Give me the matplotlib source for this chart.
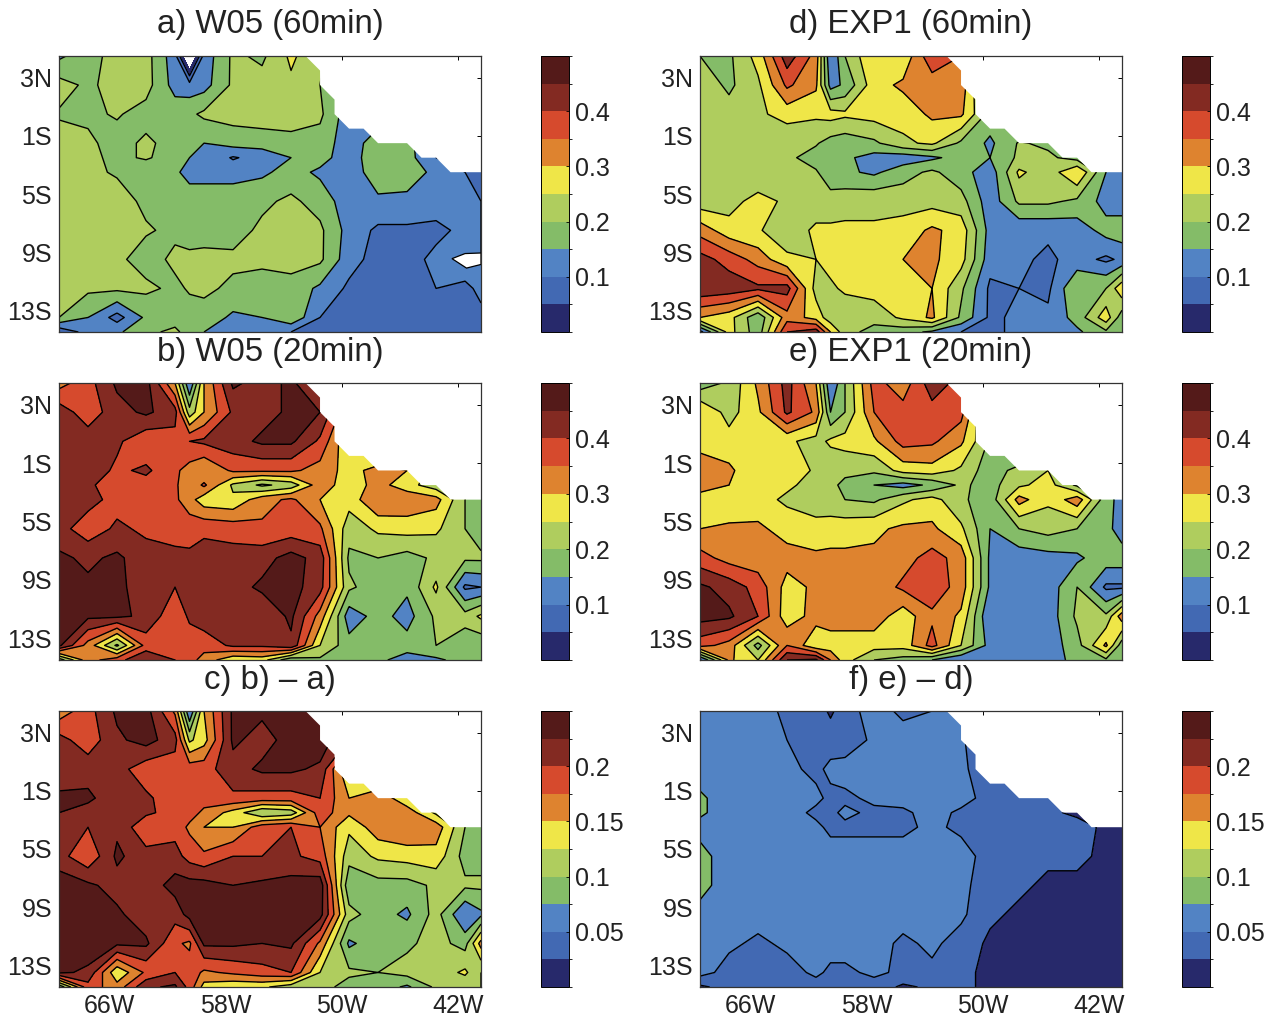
import numpy as np
import matplotlib
matplotlib.use("Agg")
import matplotlib.pyplot as plt
from matplotlib.colors import ListedColormap, BoundaryNorm
from matplotlib.cm import ScalarMappable
from matplotlib.patches import Polygon

plt.rcParams['font.family'] = ['Liberation Sans', 'DejaVu Sans']

lons = [-69.5,-67.5,-65.5,-63.5,-61.5,-60.5,-59.5,-57.5,-55.5,-53.5,-51.5,-49.5,-47.5,-45.5,-43.5,-41.5,-40.4]
lats = [4.5,2.5,0.5,-1.5,-2.5,-3.5,-5.5,-7.5,-9.5,-11.5,-13.5,-14.5]

coast = [(-69.5,-14.5),(-40.4,-14.5),(-40.4,-3.5),(-42.5,-3.5),(-43.5,-2.5),(-44.5,-2.5),(-45.5,-1.5),
         (-47.5,-1.5),(-48.5,-0.5),(-49.5,-0.5),(-50.5,0.5),(-50.5,1.5),(-51.5,2.5),(-51.5,3.5),(-52.5,4.5),(-69.5,4.5)]
a_gap = [(-42.4,-9.45),(-41.5,-9.1),(-40.4,-9.06),(-40.4,-9.85),(-41.4,-10.1)]

panel_a = [
 [.14,.18,.22,.22,.12,-.1,.12,.21,.19,.26,.21,.14,.12,.12,.12,.10,.10],
 [.22,.19,.22,.22,.13,.12,.13,.21,.22,.24,.20,.14,.12,.12,.12,.10,.10],
 [.195,.19,.205,.18,.18,.19,.21,.22,.23,.23,.21,.12,.12,.12,.12,.10,.10],
 [.22,.21,.18,.21,.18,.17,.15,.17,.17,.18,.18,.12,.18,.16,.12,.10,.10],
 [.22,.21,.19,.205,.18,.15,.14,.095,.12,.15,.17,.12,.19,.17,.10,.10,.10],
 [.22,.21,.195,.17,.16,.13,.13,.13,.14,.17,.14,.12,.18,.17,.14,.10,.09],
 [.23,.23,.22,.19,.18,.18,.18,.18,.19,.21,.18,.12,.14,.14,.12,.11,.10],
 [.23,.23,.22,.205,.19,.17,.17,.18,.21,.23,.21,.13,.09,.09,.09,.11,.10],
 [.23,.22,.21,.18,.21,.215,.22,.21,.21,.22,.21,.12,.08,.085,.11,.13,.10],
 [.21,.21,.21,.21,.19,.205,.21,.19,.18,.18,.14,.09,.08,.09,.10,.09,.11],
 [.20,.15,.08,.16,.18,.18,.18,.14,.15,.19,.10,.08,.08,.08,.08,.08,.09],
 [.06,.12,.14,.19,.21,.18,.15,.12,.12,.10,.08,.08,.08,.08,.08,.08,.08],
]
panel_b = [
 [.33,.38,.46,.47,.30,.10,.30,.46,.43,.46,.40,.30,.20,.20,.20,.18,.18],
 [.43,.37,.43,.46,.42,.22,.30,.41,.43,.46,.45,.30,.20,.20,.20,.18,.18],
 [.43,.43,.41,.36,.38,.40,.41,.43,.46,.46,.39,.25,.20,.20,.20,.18,.18],
 [.43,.43,.39,.41,.36,.33,.30,.36,.36,.36,.33,.28,.32,.30,.22,.18,.18],
 [.43,.41,.37,.38,.36,.31,.36,.24,.19,.22,.33,.27,.32,.27,.22,.20,.18],
 [.43,.42,.38,.37,.36,.32,.27,.26,.33,.36,.30,.27,.35,.34,.32,.20,.17],
 [.42,.37,.41,.39,.37,.38,.39,.38,.36,.37,.36,.22,.26,.27,.26,.20,.17],
 [.46,.44,.46,.42,.42,.41,.42,.42,.43,.47,.43,.19,.20,.18,.21,.21,.21],
 [.46,.46,.46,.43,.40,.42,.44,.43,.46,.47,.42,.21,.17,.16,.26,.09,.10],
 [.47,.46,.46,.44,.36,.41,.43,.42,.41,.46,.33,.12,.17,.13,.21,.22,.26],
 [.46,.33,.19,.37,.37,.37,.37,.41,.41,.44,.25,.17,.17,.17,.20,.17,.16],
 [.17,.33,.38,.45,.40,.37,.33,.26,.27,.16,.19,.17,.16,.13,.14,.17,.15],
]
panel_c = [
 [.16,.19,.23,.235,.17,.05,.15,.23,.23,.24,.24,.20,.10,.10,.10,.09,.09],
 [.21,.185,.22,.235,.21,.12,.14,.23,.215,.235,.24,.20,.10,.10,.10,.09,.09],
 [.21,.215,.21,.185,.185,.19,.19,.215,.23,.23,.22,.12,.10,.10,.10,.09,.09],
 [.23,.23,.21,.205,.185,.185,.185,.195,.19,.19,.20,.15,.17,.13,.10,.09,.09],
 [.225,.215,.21,.205,.19,.185,.17,.14,.10,.11,.19,.155,.155,.165,.12,.10,.09],
 [.21,.20,.22,.18,.19,.17,.15,.15,.19,.20,.175,.13,.165,.175,.165,.10,.09],
 [.21,.18,.23,.21,.21,.19,.18,.20,.20,.205,.19,.11,.13,.135,.14,.09,.09],
 [.24,.23,.215,.21,.235,.235,.235,.225,.23,.235,.24,.08,.09,.09,.105,.105,.105],
 [.24,.235,.23,.21,.21,.235,.235,.235,.235,.23,.235,.11,.085,.07,.11,.05,.07],
 [.24,.24,.23,.23,.18,.17,.23,.23,.225,.23,.17,.07,.09,.095,.11,.09,.16],
 [.23,.22,.13,.18,.20,.19,.17,.18,.19,.20,.125,.105,.10,.11,.11,.13,.10],
 [.08,.19,.16,.22,.23,.19,.14,.13,.13,.11,.11,.09,.09,.07,.105,.105,.10],
]
panel_d = [
 [.20,.19,.27,.43,.33,.10,.20,.30,.26,.39,.35,.10,.10,.10,.10,.10,.10],
 [.23,.19,.24,.36,.31,.13,.16,.28,.31,.32,.33,.15,.10,.10,.10,.10,.10],
 [.22,.22,.24,.27,.26,.27,.26,.27,.27,.31,.31,.18,.10,.10,.10,.10,.10],
 [.22,.22,.21,.21,.205,.18,.17,.19,.24,.26,.19,.14,.205,.19,.12,.10,.10],
 [.22,.22,.22,.21,.18,.17,.16,.13,.12,.14,.17,.15,.21,.21,.18,.12,.12],
 [.22,.22,.205,.205,.205,.17,.16,.14,.18,.21,.17,.12,.26,.22,.30,.15,.12],
 [.22,.23,.27,.24,.22,.22,.23,.24,.23,.23,.22,.12,.21,.21,.19,.13,.12],
 [.33,.27,.255,.22,.26,.26,.26,.255,.27,.31,.28,.13,.11,.11,.12,.17,.18],
 [.42,.38,.33,.26,.25,.27,.27,.27,.30,.31,.27,.12,.11,.09,.12,.09,.11],
 [.44,.43,.41,.42,.23,.24,.26,.27,.26,.30,.21,.09,.10,.09,.20,.20,.29],
 [.30,.27,.16,.33,.28,.22,.21,.22,.26,.31,.19,.09,.11,.11,.17,.28,.17],
 [.08,.27,.17,.40,.43,.30,.22,.18,.17,.14,.10,.09,.11,.10,.14,.19,.16],
]
panel_e = [
 [.17,.21,.31,.42,.30,.10,.20,.37,.32,.43,.38,.15,.10,.10,.10,.10,.10],
 [.30,.23,.29,.41,.34,.15,.20,.35,.37,.38,.37,.15,.10,.10,.10,.10,.10],
 [.28,.27,.28,.26,.23,.26,.27,.29,.37,.36,.31,.19,.10,.10,.10,.10,.10],
 [.33,.31,.26,.29,.24,.21,.21,.21,.27,.28,.24,.17,.22,.25,.17,.12,.10],
 [.33,.30,.26,.26,.23,.21,.19,.15,.13,.16,.21,.18,.24,.27,.19,.15,.13],
 [.27,.26,.27,.24,.22,.21,.20,.19,.24,.27,.21,.17,.32,.26,.33,.17,.13],
 [.30,.31,.31,.28,.27,.28,.28,.29,.31,.31,.26,.15,.20,.22,.20,.17,.12],
 [.37,.33,.32,.32,.31,.31,.31,.31,.33,.37,.33,.14,.12,.13,.14,.18,.18],
 [.46,.43,.38,.28,.31,.31,.31,.32,.36,.38,.33,.14,.11,.12,.20,.09,.09],
 [.47,.46,.40,.27,.32,.33,.33,.33,.27,.34,.29,.10,.12,.12,.21,.21,.33],
 [.37,.33,.18,.35,.26,.27,.27,.27,.27,.37,.25,.13,.12,.12,.18,.31,.17],
 [.09,.31,.25,.45,.46,.35,.27,.20,.18,.15,.10,.13,.12,.12,.17,.19,.17],
]
panel_f = [
 [.06,.065,.06,.045,.04,.02,.04,.06,.045,.05,.06,.03,.03,.03,.03,.03,.03],
 [.06,.06,.06,.05,.045,.04,.035,.055,.06,.06,.055,.02,.02,.02,.02,.02,.02],
 [.06,.06,.06,.055,.045,.055,.06,.06,.06,.06,.055,.035,.02,.02,.02,.02,.02],
 [.08,.06,.06,.06,.055,.045,.045,.055,.06,.06,.06,.04,.04,.03,.02,.02,.02],
 [.08,.06,.06,.06,.045,.045,.055,.045,.045,.06,.045,.04,.04,.03,.02,.02,.02],
 [.065,.06,.06,.06,.055,.045,.045,.045,.045,.055,.045,.04,.04,.035,.035,.02,.02],
 [.085,.06,.06,.06,.06,.06,.06,.06,.06,.06,.06,.04,.035,.03,.03,.02,.02],
 [.085,.06,.06,.06,.06,.06,.06,.06,.06,.06,.06,.03,.03,.02,.02,.02,.02],
 [.065,.06,.06,.06,.06,.06,.06,.06,.06,.06,.055,.03,.02,.02,.02,.02,.02],
 [.055,.055,.045,.055,.06,.06,.06,.06,.045,.055,.04,.02,.02,.02,.02,.02,.02],
 [.06,.04,.035,.04,.055,.045,.045,.055,.045,.045,.03,.02,.02,.02,.02,.02,.02],
 [.02,.035,.035,.035,.04,.04,.04,.04,.02,.03,.03,.02,.02,.02,.02,.02,.02],
]

titles = ["a) W05 (60min)", "b) W05 (20min)", "c) b) \u2013 a)", "d) EXP1 (60min)", "e) EXP1 (20min)", "f) e) \u2013 d)"]
levels_top = [0,.05,.1,.15,.2,.25,.3,.35,.4,.45,.5]
levels_diff = [0,.025,.05,.075,.1,.125,.15,.175,.2,.225,.25]
cb_ticks_top = [.1,.2,.3,.4]
cb_ticks_diff = [.05,.1,.15,.2]
xticks = [-66,-58,-50,-42]
xlabels = ["66W","58W","50W","42W"]
yticks = [3,-1,-5,-9,-13]
ylabels = ["3N","1S","5S","9S","13S"]
colors = ['#27296b','#4269b3','#5283c4','#84bc68','#afcd5e','#efe648','#de832f','#d64a2d','#832a22','#541a19']

W, H = 1271, 1018
fig = plt.figure(figsize=(W/100, H/100), dpi=100, facecolor='white')
cmap = ListedColormap(colors)

def axpx(x0, y0, x1, y1):
    return fig.add_axes([x0/W, 1-y1/H, (x1-x0)/W, (y1-y0)/H])

rows_px = [(56,332,25),(383,660,353),(711,987,681)]
cols_px = [(59,481,541,569,270),(700,1122,1182,1210,911)]
data = [[panel_a,panel_b,panel_c],[panel_d,panel_e,panel_f]]
for c,(x0,x1,cx0,cx1,tx) in enumerate(cols_px):
    for r,(y0,y1,ty) in enumerate(rows_px):
        ax = axpx(x0,y0,x1,y1)
        levels = levels_diff if r==2 else levels_top
        ticks = cb_ticks_diff if r==2 else cb_ticks_top
        Z = np.array(data[c][r])
        cs = ax.contourf(lons, lats, Z, levels=levels, colors=colors, zorder=1)
        cl = ax.contour(lons, lats, Z, levels=levels[1:-1], colors='k', linewidths=1.0, zorder=1.1)
        land = Polygon(coast, transform=ax.transData, fill=False, edgecolor='none')
        ax.add_patch(land)
        cs.set_clip_path(land)
        cl.set_clip_path(land)
        if c==0 and r==0:
            ax.add_patch(Polygon(a_gap, facecolor='white', edgecolor='k', linewidth=0.9, zorder=1.2))
        ax.set_xlim(-69.5,-40.4); ax.set_ylim(-14.5,4.5)
        ax.set_axisbelow(True)
        ax.set_xticks(xticks); ax.set_yticks(yticks)
        ax.set_xticklabels(xlabels if r==2 else [])
        ax.set_yticklabels(ylabels)
        ax.tick_params(direction='in', length=3, width=0.7, top=True, right=True, labelsize=18, colors='k', labelcolor='#222222')
        ax.tick_params(axis='x', pad=5)
        ax.tick_params(axis='y', pad=5)
        for s in ax.spines.values():
            s.set_linewidth(0.9); s.set_color('#333333')
        fig.text(tx/W, 1-ty/H, titles[c*3+r], ha='center', va='center', fontsize=23.8, color='#222222')
        cax = axpx(cx0,y0,cx1,y1)
        sm = ScalarMappable(norm=BoundaryNorm(levels,len(colors)), cmap=cmap)
        cb = fig.colorbar(sm, cax=cax, ticks=ticks, drawedges=False, spacing='proportional')
        cb.ax.set_yticklabels([f"{t:g}" for t in ticks])
        cb.ax.tick_params(direction='in', length=2, width=0.6, labelsize=18, pad=4, labelcolor='#222222')
        cb.outline.set_linewidth(0.7)
fig.savefig("out.png", dpi=100, facecolor='white')
